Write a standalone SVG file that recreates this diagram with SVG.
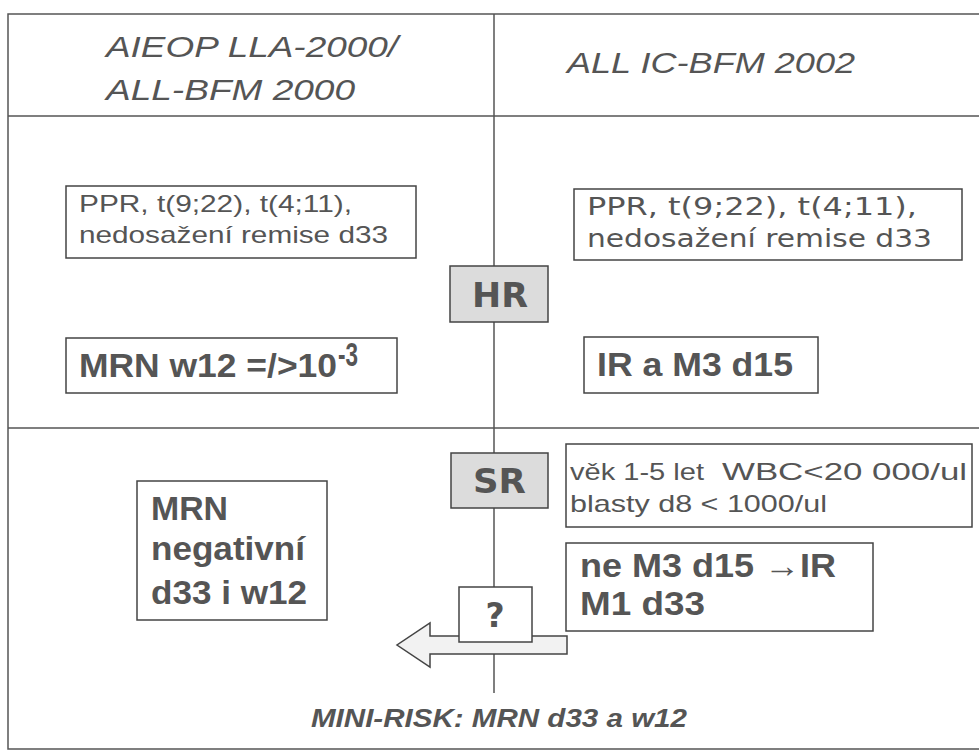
<svg xmlns="http://www.w3.org/2000/svg" width="979" height="752" viewBox="0 0 979 752">
<style>
.frame{fill:none;stroke:#555;stroke-width:1.5}
.ln{stroke:#555;stroke-width:1.5;fill:none}
.box{fill:#fff;stroke:#444;stroke-width:1.5}
.gbox{fill:#dcdcdc;stroke:#444;stroke-width:1.5}
.hd{font-family:"Liberation Sans",Arial,sans-serif;font-style:italic;font-size:30px;fill:#555}
.sm{font-family:"Liberation Sans",Arial,sans-serif;font-size:24px;fill:#555}
.vd{font-family:"DejaVu Sans",Verdana,sans-serif;font-size:25px;fill:#555}
.bd{font-family:"Liberation Sans",Arial,sans-serif;font-weight:bold;font-size:33px;fill:#555}
.vb{font-family:"DejaVu Sans",Verdana,sans-serif;font-weight:bold;font-size:33px;fill:#555}
.ft{font-family:"Liberation Sans",Arial,sans-serif;font-weight:bold;font-style:italic;font-size:25px;fill:#555}
</style>
<rect x="0" y="0" width="979" height="752" fill="#fff"/>
<g id="connectors">
<rect class="frame" x="8" y="14" width="990" height="735"/>
<line class="ln" x1="8" y1="116" x2="979" y2="116"/>
<line class="ln" x1="8" y1="428" x2="979" y2="428"/>
<line class="ln" x1="494" y1="14" x2="494" y2="693"/>
</g>
<g id="header-left">
<text class="hd" x="106" y="57" textLength="292" lengthAdjust="spacingAndGlyphs">AIEOP LLA-2000/</text>
<text class="hd" x="106" y="100" textLength="249" lengthAdjust="spacingAndGlyphs">ALL-BFM 2000</text>
</g>
<g id="header-right">
<text class="hd" x="567" y="73" textLength="288" lengthAdjust="spacingAndGlyphs">ALL IC-BFM 2002</text>
</g>
<g id="ppr-left">
<rect class="box" x="66" y="186" width="350" height="72"/>
<text class="sm" x="79" y="212" textLength="273" lengthAdjust="spacingAndGlyphs">PPR, t(9;22), t(4;11),</text>
<text class="sm" x="79" y="243" textLength="309" lengthAdjust="spacingAndGlyphs">nedosažení remise d33</text>
</g>
<g id="ppr-right">
<rect class="box" x="574" y="189" width="388" height="71"/>
<text class="vd" x="587" y="215" textLength="330" lengthAdjust="spacingAndGlyphs">PPR, t(9;22), t(4;11),</text>
<text class="vd" x="587" y="247" textLength="345" lengthAdjust="spacingAndGlyphs">nedosažení remise d33</text>
</g>
<g id="hr">
<rect class="gbox" x="450" y="266" width="98" height="56"/>
<text class="vb" x="472" y="307" textLength="56" lengthAdjust="spacingAndGlyphs">HR</text>
</g>
<g id="mrn-w12">
<rect class="box" x="66" y="338" width="331" height="55"/>
<text class="bd" x="79" y="377" textLength="258" lengthAdjust="spacingAndGlyphs">MRN w12 =/&gt;10</text>
<text class="bd" x="338" y="366" font-size="22" textLength="20" lengthAdjust="spacingAndGlyphs">-3</text>
</g>
<g id="ir-m3">
<rect class="box" x="584" y="337" width="234" height="56"/>
<text class="bd" x="597" y="376" textLength="196" lengthAdjust="spacingAndGlyphs">IR a M3 d15</text>
</g>
<g id="sr">
<rect class="gbox" x="451" y="453" width="97" height="55"/>
<text class="vb" x="473" y="493" textLength="53" lengthAdjust="spacingAndGlyphs">SR</text>
</g>
<g id="sr-criteria">
<rect class="box" x="566" y="444" width="406" height="83"/>
<text class="sm" x="570" y="480" font-size="25" textLength="134" lengthAdjust="spacingAndGlyphs">věk 1-5 let</text>
<text class="sm" x="722" y="480" font-size="25" textLength="245" lengthAdjust="spacingAndGlyphs">WBC&lt;20 000/ul</text>
<text class="sm" x="570" y="512" font-size="25" textLength="257" lengthAdjust="spacingAndGlyphs">blasty d8 &lt; 1000/ul</text>
</g>
<g id="m3-m1">
<rect class="box" x="566" y="543" width="307" height="88"/>
<text class="bd" x="580" y="577" textLength="256" lengthAdjust="spacingAndGlyphs">ne M3 d15 →IR</text>
<text class="bd" x="580" y="615" textLength="125" lengthAdjust="spacingAndGlyphs">M1 d33</text>
</g>
<g id="mrn-negativni">
<rect class="box" x="137" y="481" width="190" height="139"/>
<text class="bd" x="151" y="520" textLength="77" lengthAdjust="spacingAndGlyphs">MRN</text>
<text class="bd" x="151" y="560" textLength="154" lengthAdjust="spacingAndGlyphs">negativní</text>
<text class="bd" x="151" y="604" textLength="156" lengthAdjust="spacingAndGlyphs">d33 i w12</text>
</g>
<g id="arrow-left">
<path d="M567,636 L430,636 L430,623 L397,645 L430,667 L430,654 L567,654 Z" fill="#f2f2f2" stroke="#444" stroke-width="1.5"/>
</g>
<g id="question">
<rect class="box" x="459" y="587" width="73" height="55"/>
<text class="vb" x="495" y="627" text-anchor="middle" font-size="30">?</text>
</g>
<g id="footer">
<text class="ft" x="311" y="727" textLength="376" lengthAdjust="spacingAndGlyphs">MINI-RISK: MRN d33 a w12</text>
</g>
</svg>
